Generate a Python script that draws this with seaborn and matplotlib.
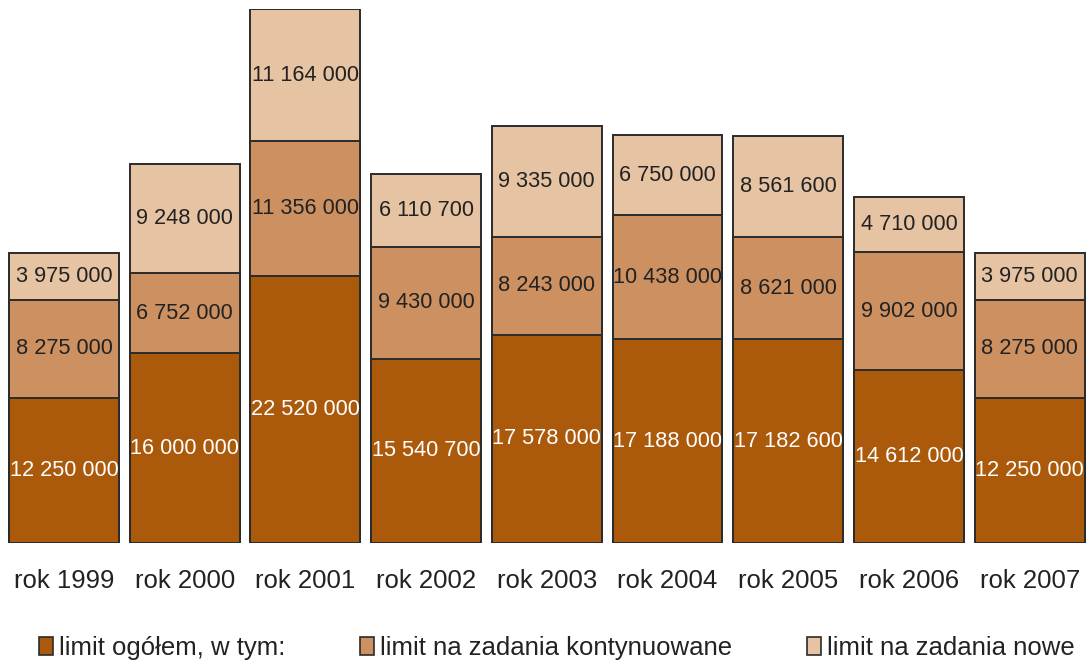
import matplotlib
matplotlib.use("Agg")
import matplotlib.pyplot as plt
import seaborn as sns
import pandas as pd
import numpy as np
from matplotlib.patches import Patch

years = ["rok 1999", "rok 2000", "rok 2001", "rok 2002", "rok 2003",
         "rok 2004", "rok 2005", "rok 2006", "rok 2007"]
limit_total = [12250000, 16000000, 22520000, 15540700, 17578000,
               17188000, 17182600, 14612000, 12250000]
limit_kont = [8275000, 6752000, 11356000, 9430000, 8243000,
              10438000, 8621000, 9902000, 8275000]
limit_nowe = [3975000, 9248000, 11164000, 6110700, 9335000,
              6750000, 8561600, 4710000, 3975000]
series_names = ["limit ogółem, w tym:", "limit na zadania kontynuowane",
                "limit na zadania nowe"]

colors = ["#AB5A0B", "#CD9060", "#E6C3A3"]
edge = "#2b2b2b"

sns.set_theme(style="white")
plt.rcParams["font.family"] = ["Liberation Sans", "DejaVu Sans"]

df = pd.DataFrame({"year": years, "total": limit_total,
                   "kont": limit_kont, "nowe": limit_nowe})
df["c1"] = df["total"]
df["c2"] = df["total"] + df["kont"]
df["c3"] = df["c2"] + df["nowe"]

fig = plt.figure(figsize=(10.9, 6.65), dpi=100)
ax = fig.add_axes([0, 122 / 665, 1, (543 - 9) / 665])

for col, c in zip(["c3", "c2", "c1"], colors[::-1]):
    sns.barplot(data=df, x="year", y=col, color=c, width=0.91,
                edgecolor=edge, linewidth=1.4, saturation=1, ax=ax)

ax.set_xlim(-0.53, 8.5)
ax.set_ylim(0, df["c3"].max())

def fmt(v):
    return f"{int(v):,}".replace(",", " ")

for i in range(len(years)):
    ax.text(i, df["c1"][i] / 2, fmt(limit_total[i]), ha="center", va="center",
            color="white", fontsize=15.7)
    ax.text(i, (df["c1"][i] + df["c2"][i]) / 2, fmt(limit_kont[i]), ha="center",
            va="center", color="#222222", fontsize=15.7)
    ax.text(i, (df["c2"][i] + df["c3"][i]) / 2, fmt(limit_nowe[i]), ha="center",
            va="center", color="#222222", fontsize=15.7)

ax.set_xlabel("")
ax.set_ylabel("")
ax.set_yticks([])
ax.tick_params(axis="x", length=0, pad=19, labelsize=18.5, labelcolor="#222222")
for s in ax.spines.values():
    s.set_visible(False)

handles = [Patch(facecolor=c, edgecolor=edge, linewidth=1.2) for c in colors]
fig.legend(handles, series_names, loc="center", bbox_to_anchor=(0.511, 17 / 665),
           ncol=3, frameon=False, fontsize=18.5, handlelength=0.55, handleheight=0.75,
           handletextpad=0.23, columnspacing=2.9, labelcolor="#222222")

fig.savefig("out.png", dpi=100)
